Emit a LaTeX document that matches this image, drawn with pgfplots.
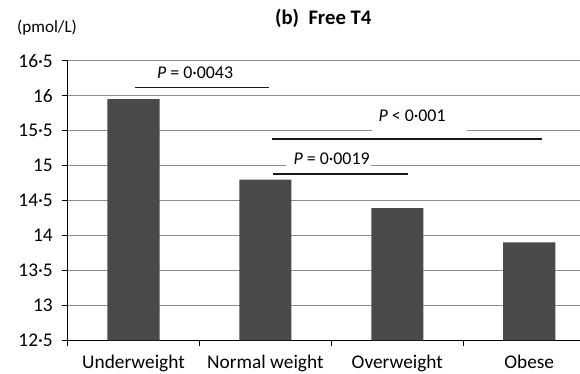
\documentclass[border=0pt]{standalone}
\usepackage{pgfplots}
\pgfplotsset{compat=1.18}
\usepackage{fontspec}
\setmainfont{Carlito}
\definecolor{bargray}{HTML}{4A4A4A}
\definecolor{gridgray}{HTML}{8C8C8C}
\begin{document}
\begin{tikzpicture}
\begin{axis}[
  scale only axis,
  width=384pt, height=209.5pt,
  xmin=-0.5, xmax=3.385,
  ymin=12.5, ymax=16.5,
  axis x line=bottom, axis y line=left,
  axis line style={black, line width=0.9pt, -},
  ytick={12.5,13,13.5,14,14.5,15,15.5,16,16.5},
  yticklabels={12·5,13,13·5,14,14·5,15,15·5,16,16·5},
  ymajorgrids,
  grid style={gridgray, line width=1pt},
  xtick={0,1,2,3},
  xticklabels={Underweight,Normal weight,Overweight,Obese},
  minor xtick={-0.5,0.5,1.5,2.5},
  major x tick style={draw=none},
  minor x tick style={black, line width=0.9pt},
  ytick style={black, line width=0.9pt},
  tick align=outside,
  major tick length=4.5pt,
  minor tick length=4pt,
  xticklabel style={font=\fontsize{14.5}{16}\selectfont, yshift=-3pt},
  yticklabel style={font=\fontsize{14.5}{16}\selectfont, xshift=-3pt},
  clip=true,
]
\addplot[ybar, bar width=0.395, fill=bargray, draw=none, bar shift=0pt] coordinates {
  (0,15.95) (1,14.80) (2,14.39) (3,13.90)
};
\coordinate (O) at (rel axis cs:0,0);
% gaps in the grid lines behind the P-value texts
\fill[white] (axis cs:1.808,15.45) rectangle (axis cs:2.529,15.55);
\fill[white] (axis cs:1.158,14.95) rectangle (axis cs:1.803,15.05);
% significance lines
\draw[black!90, line width=1.1pt] (axis cs:0.012,16.12) -- (axis cs:1.029,16.12);
\draw[black!90, line width=1.1pt] (axis cs:1.049,15.38) -- (axis cs:3.098,15.38);
\draw[black!90, line width=1.1pt] (axis cs:1.057,14.88) -- (axis cs:2.084,14.88);
\node[font=\fontsize{13.4}{15}\selectfont, inner sep=0pt] at (axis cs:0.467,16.33) {\textit{P} = 0·0043};
\node[font=\fontsize{13.4}{15}\selectfont, inner sep=0pt] at (axis cs:2.112,15.71) {\textit{P} < 0·001};
\node[font=\fontsize{13.4}{15}\selectfont, inner sep=0pt] at (axis cs:1.502,15.10) {\textit{P} = 0·0019};
\end{axis}
\node[font=\fontsize{15.5}{17}\selectfont\bfseries, inner sep=0pt] at ([shift={(191.6pt,241.5pt)}]O) {(b)\ \ Free T4};
\node[font=\fontsize{12.8}{14}\selectfont, inner sep=0pt, anchor=west] at ([shift={(-37.9pt,234pt)}]O) {(pmol/L)};
\pgfresetboundingbox
\path[use as bounding box] ([shift={(-50.6pt,-24.75pt)}]O) rectangle ([shift={(384pt,255pt)}]O);
\end{tikzpicture}
\end{document}
